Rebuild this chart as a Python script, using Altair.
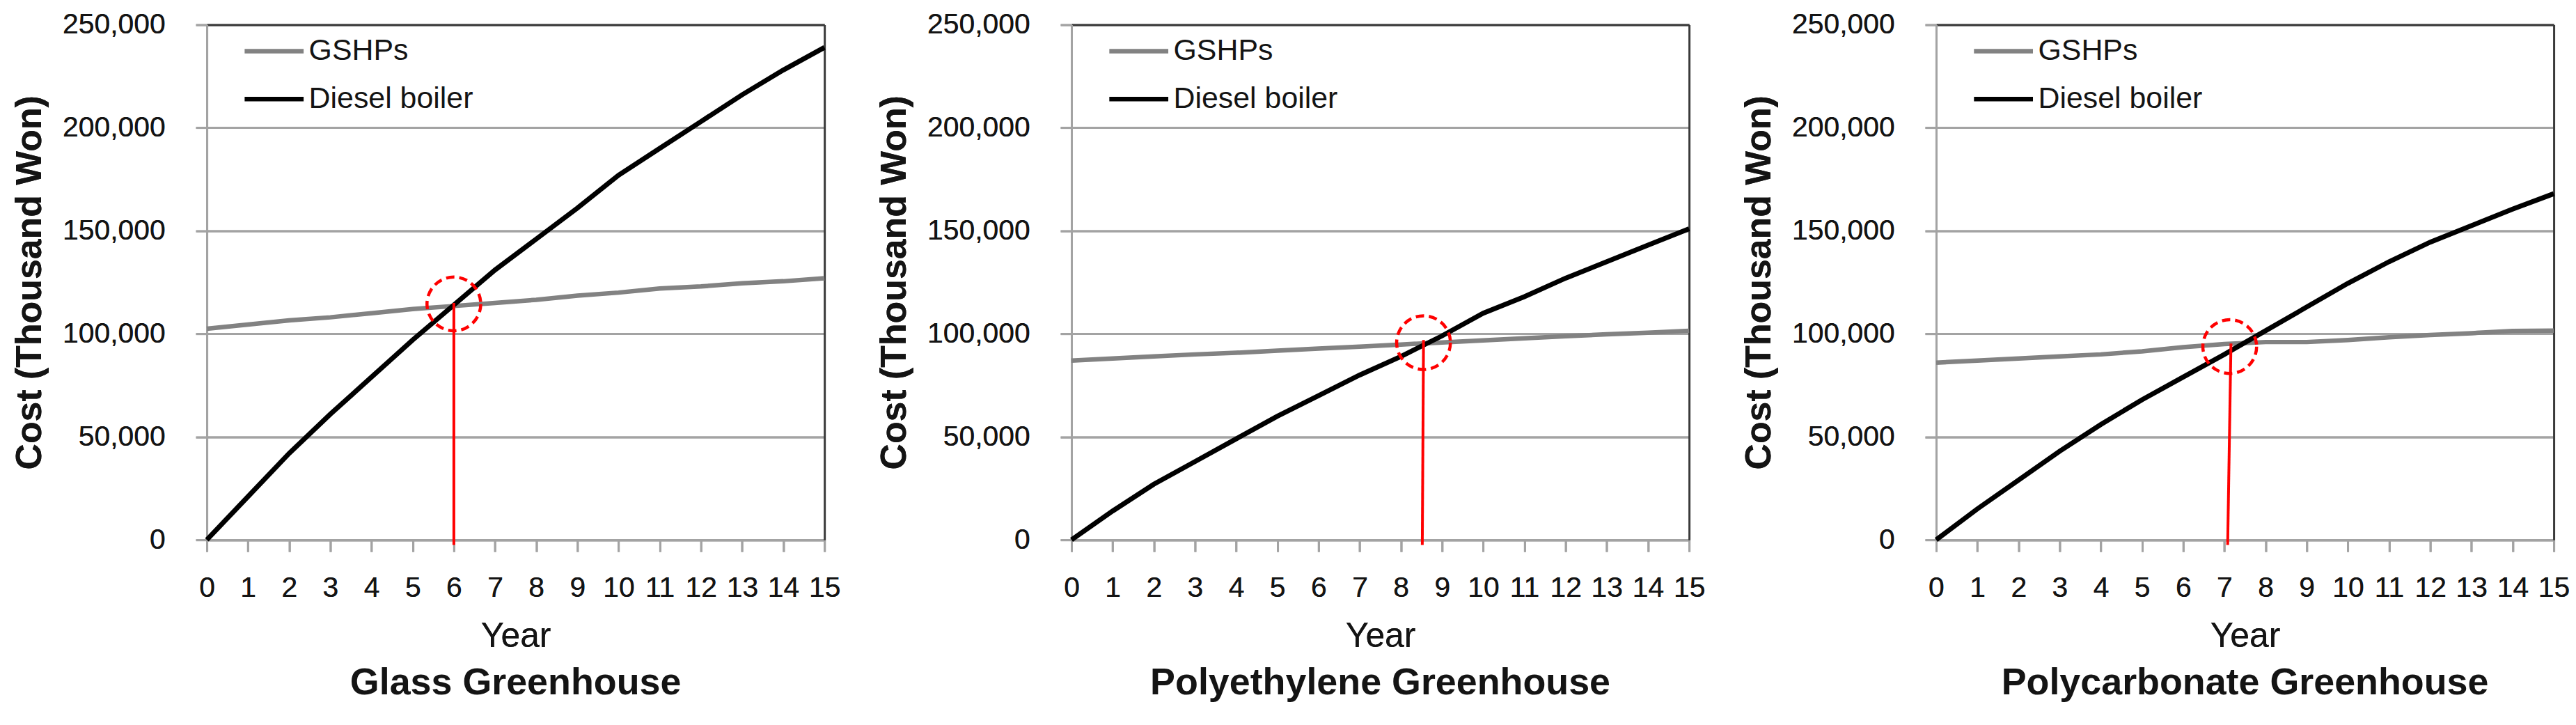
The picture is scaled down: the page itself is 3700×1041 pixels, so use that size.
import altair as alt
import pandas as pd

# ---------------- data ----------------
years = list(range(16))
panel_titles = ["Glass Greenhouse", "Polyethylene Greenhouse", "Polycarbonate Greenhouse"]
series_names = ["GSHPs", "Diesel boiler"]
cost_ticks = [0, 50000, 100000, 150000, 200000, 250000]

gshp_glass = [102500, 104500, 106500, 108000, 110000, 112000, 113500, 115000,
              116500, 118500, 120000, 122000, 123000, 124500, 125500, 127000]
diesel_glass = [0, 21000, 42000, 61000, 79000, 97000, 114000, 131000,
                146000, 161000, 177000, 190000, 203000, 216000, 228000, 239000]

gshp_pe = [87000, 88000, 89000, 90000, 90800, 91800, 92800, 93800,
           94800, 95800, 96800, 97800, 98800, 99800, 100500, 101500]
diesel_pe = [0, 14000, 27000, 38000, 49000, 60000, 70000, 80000,
             89000, 99000, 110000, 118000, 127000, 135000, 143000, 151000]

gshp_pc = [86000, 87000, 88000, 89000, 90000, 91500, 93500, 95000,
           96000, 96000, 97000, 98300, 99400, 100300, 101400, 101500]
diesel_pc = [0, 15000, 29000, 43000, 56000, 68000, 79000, 90000,
             101500, 113000, 124500, 135000, 144500, 152500, 160500, 168000]

gshp_all = [gshp_glass, gshp_pe, gshp_pc]
diesel_all = [diesel_glass, diesel_pe, diesel_pc]

# break-even markers (red line + dashed circle)
marker_year_bottom = [6.0, 8.52, 7.08]
marker_year_top = [6.0, 8.55, 7.16]
marker_cost_bottom = [-2500, -2500, -2500]
marker_cost_top = [115000, 97000, 95300]
circle_year = [6.0, 8.55, 7.13]
circle_cost = [114500, 95700, 93800]

# ---------------- style ----------------
FONT = "Liberation Sans"
TEXT = "#141414"
AXIS_GRAY = "#a3a3a3"
BORDER = "#3a3a3a"
LINE_COLORS = ["#828282", "#000000"]
LINE_WIDTHS = [6.5, 7]


def make_panel(i):
    rows = []
    for yr, v in zip(years, gshp_all[i]):
        rows.append({"Year": yr, "Cost": v, "Series": series_names[0]})
    for yr, v in zip(years, diesel_all[i]):
        rows.append({"Year": yr, "Cost": v, "Series": series_names[1]})
    df = pd.DataFrame(rows)

    mdf = pd.DataFrame([{
        "xb": marker_year_bottom[i], "xt": marker_year_top[i],
        "yb": marker_cost_bottom[i], "yt": marker_cost_top[i],
        "cx": circle_year[i], "cy": circle_cost[i],
    }])

    x_scale = alt.Scale(domain=[0, 15], nice=False, zero=False)
    y_scale = alt.Scale(domain=[0, 250000], nice=False)

    x_enc = alt.X("Year:Q", scale=x_scale, axis=alt.Axis(
        orient="bottom", values=years, title="Year", grid=False,
        domainColor=AXIS_GRAY, domainWidth=3,
        tickColor=AXIS_GRAY, tickWidth=3, tickSize=17,
        labelFont=FONT, labelFontSize=41, labelColor=TEXT,
        labelPadding=33, labelFlush=False, labelOverlap=False,
        titleFont=FONT, titleFontSize=50, titleFontWeight="normal",
        titleColor=TEXT, titlePadding=24))
    y_enc = alt.Y("Cost:Q", scale=y_scale, axis=alt.Axis(
        orient="left", values=cost_ticks, format=",.0f",
        title="Cost (Thousand Won)", grid=True,
        gridColor=AXIS_GRAY, gridWidth=3,
        domainColor=AXIS_GRAY, domainWidth=3,
        tickColor=AXIS_GRAY, tickWidth=3, tickSize=16,
        labelFont=FONT, labelFontSize=41, labelColor=TEXT,
        labelPadding=44, labelOverlap=False,
        titleFont=FONT, titleFontSize=52, titleFontWeight="bold",
        titleColor=TEXT, titlePadding=28))
    color_enc = alt.Color(
        "Series:N",
        scale=alt.Scale(domain=series_names, range=LINE_COLORS),
        legend=alt.Legend(
            title=None, orient="none", legendX=65, legendY=6,
            symbolType="M-1.5,0H1.5", symbolSize=3211,
            symbolStrokeWidth=6.5, labelFont=FONT,
            labelFontSize=43, labelColor=TEXT, labelLimit=0,
            labelOffset=18, rowPadding=15, padding=0))

    base = alt.Chart(df).encode(x=x_enc, y=y_enc, color=color_enc,
                                order=alt.Order("Year:Q"))
    line_g = base.mark_line(strokeWidth=LINE_WIDTHS[0]).transform_filter(
        alt.datum.Series == series_names[0])
    line_d = base.mark_line(strokeWidth=LINE_WIDTHS[1]).transform_filter(
        alt.datum.Series == series_names[1])

    rule = alt.Chart(mdf).mark_rule(color="#ff0000", strokeWidth=4).encode(
        x=alt.X("xb:Q", axis=None), x2="xt:Q",
        y=alt.Y("yb:Q", axis=None), y2="yt:Q",
    )

    circ = alt.Chart(mdf).mark_point(
        shape="circle", filled=False, size=6000, stroke="#ff0000",
        strokeWidth=4.5, strokeDash=[12, 7], opacity=1,
    ).encode(
        x=alt.X("cx:Q", axis=alt.Axis(orient="top", labels=False, ticks=False,
                                      grid=False, title=None,
                                      domainColor=BORDER, domainWidth=3)),
        y=alt.Y("cy:Q", axis=alt.Axis(orient="right", labels=False, ticks=False,
                                      grid=False, title=None,
                                      domainColor=BORDER, domainWidth=3)),
    )

    return alt.layer(line_g, line_d, rule, circ).properties(
        width=890, height=742,
        title=alt.TitleParams(panel_titles[i], orient="bottom", anchor="middle",
                              fontSize=54, fontWeight="bold", font=FONT,
                              color=TEXT, offset=16),
    )


chart = alt.hconcat(*[make_panel(i) for i in range(3)], spacing=50).resolve_scale(
    color="independent"
).properties(
    padding={"left": 8, "top": 4, "right": 0, "bottom": 0}
).configure_view(strokeWidth=0).configure(background="white")

chart.save("out.html", embed_options={"renderer": "svg", "actions": False})
